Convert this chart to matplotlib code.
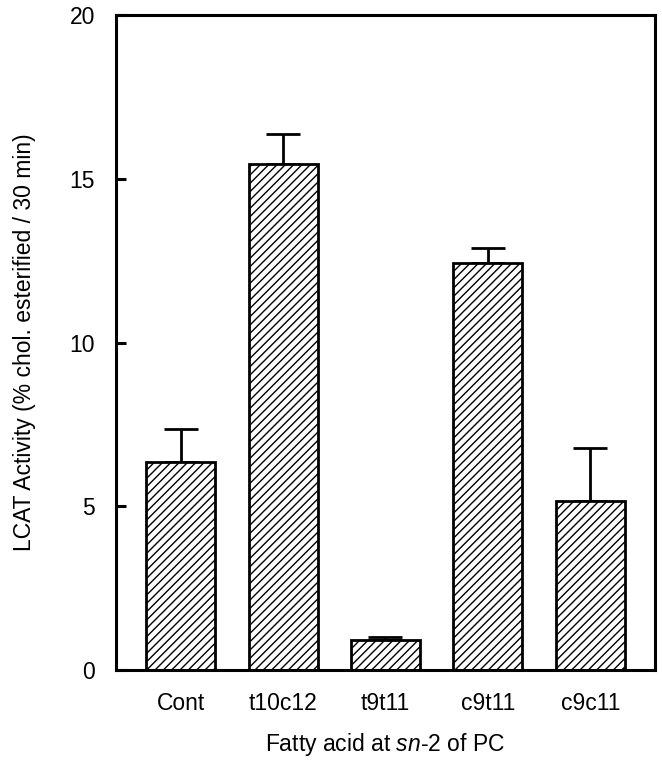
import numpy as np
import matplotlib.pyplot as plt

plt.rcParams['font.family'] = ['Liberation Sans', 'DejaVu Sans']
plt.rcParams['mathtext.fontset'] = 'custom'
plt.rcParams['mathtext.rm'] = 'Liberation Sans'
plt.rcParams['mathtext.it'] = 'Liberation Sans:italic'
plt.rcParams['hatch.linewidth'] = 1.0

# data
groups = ['Cont', 't10c12', 't9t11', 'c9t11', 'c9c11']
activity = [6.35, 15.45, 0.92, 12.43, 5.16]
err = [1.02, 0.92, 0.08, 0.46, 1.62]
yticks = [0, 5, 10, 15, 20]

fig = plt.figure(figsize=(6.62, 7.62), dpi=100)
ax = fig.add_axes([0.175, 0.1207, 0.8143, 0.8596])

x = np.arange(len(groups))
ax.bar(x, activity, width=0.673, color='white', edgecolor='black',
       linewidth=2, hatch='////', zorder=2)
ax.errorbar(x, activity, yerr=[np.zeros(len(err)), err], fmt='none',
            ecolor='black', elinewidth=2, capsize=12.5, capthick=2, zorder=1)

ax.set_xlim(-0.632, 4.63)
ax.set_ylim(0, 20)
ax.set_yticks(yticks)
ax.set_xticks(x)
ax.set_xticklabels(groups)

for s in ax.spines.values():
    s.set_linewidth(2.2)

ax.tick_params(axis='y', direction='in', length=7.5, width=2.2, pad=15, labelsize=16.5)
ax.tick_params(axis='x', length=0, pad=16, labelsize=16.5)

ax.set_ylabel('LCAT Activity (% chol. esterified / 30 min)', fontsize=16.5, labelpad=24)
ax.set_xlabel('Fatty acid at $\\mathit{sn}$-2 of PC', fontsize=16.5, labelpad=11)

fig.savefig('out.png', dpi=100)
